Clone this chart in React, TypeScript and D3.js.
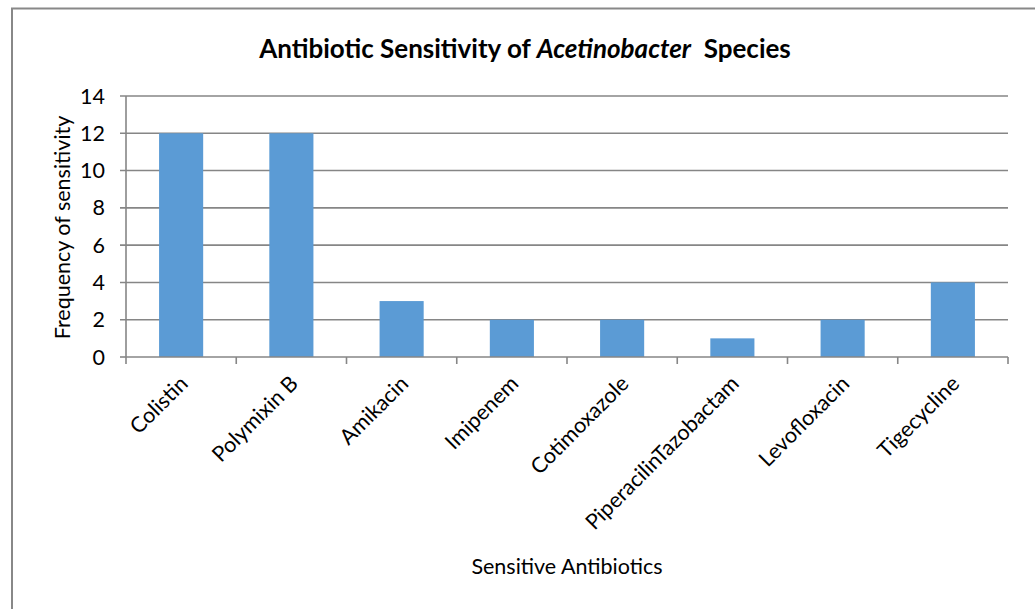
import React from "react";
import * as d3 from "d3";

const categories = ["Colistin", "Polymixin B", "Amikacin", "Imipenem", "Cotimoxazole", "PiperacilinTazobactam", "Levofloxacin", "Tigecycline"];
const values = [12, 12, 3, 2, 2, 1, 2, 4];
const yTicks = [0, 2, 4, 6, 8, 10, 12, 14];

const W = 1035, H = 609;
const left = 126, right = 1008, top = 96, bottom = 357;
const FONT = "Lato, 'Open Sans', sans-serif";
const FS = 21.5;

export default function App() {
  const x = d3.scaleBand<string>().domain(categories).range([left, right]).paddingInner(0).paddingOuter(0);
  const y = d3.scaleLinear().domain([0, 14]).range([bottom, top]);
  const bw = x.bandwidth() * 0.4;
  const grid = "#868686";
  return (
    <svg width={W} height={H} style={{ position: "absolute", left: 0, top: 0 }}>
      <rect x={0} y={0} width={W} height={H} fill="#fff" />
      <rect x={12} y={8.5} width={W + 20} height={H + 20} fill="none" stroke="#888" strokeWidth={2} />
      <text x={525} y={58} textAnchor="middle" fontFamily={FONT} fontWeight="bold" fontSize={26} fill="#000">
        Antibiotic Sensitivity of <tspan fontStyle="italic">Acetinobacter</tspan>{"\u00a0 "}Species
      </text>
      {yTicks.map((t) => (
        <g key={t}>
          <line x1={left - 6} x2={t === 0 ? left : right} y1={y(t)} y2={y(t)} stroke={grid} strokeWidth={1.6} />
          <text x={105} y={y(t) + 7.5} textAnchor="end" fontFamily={FONT} fontSize={FS} fill="#000">{t}</text>
        </g>
      ))}
      <line x1={left} x2={left} y1={top} y2={bottom} stroke={grid} strokeWidth={1.6} />
      {categories.map((c, i) => (
        <rect key={c} x={x(c)! + (x.bandwidth() - bw) / 2} y={y(values[i])} width={bw} height={bottom - y(values[i])} fill="#5b9bd5" />
      ))}
      <line x1={left} x2={right} y1={bottom} y2={bottom} stroke={grid} strokeWidth={1.6} />
      {[...categories.map((c) => x(c)!), right].map((p, i) => (
        <line key={i} x1={p} x2={p} y1={bottom} y2={bottom + 7} stroke={grid} strokeWidth={1.6} />
      ))}
      {categories.map((c) => {
        const cx = x(c)! + x.bandwidth() / 2 + 8;
        const cy = bottom + 28;
        return (
          <text key={c} x={cx} y={cy} textAnchor="end" fontFamily={FONT} fontSize={FS} fill="#000" transform={`rotate(-45 ${cx} ${cy})`}>{c}</text>
        );
      })}
      <text x={567} y={574} textAnchor="middle" fontFamily={FONT} fontSize={FS} fill="#000">Sensitive Antibiotics</text>
      <text transform={`translate(70 ${(top + bottom) / 2 + 1}) rotate(-90)`} textAnchor="middle" fontFamily={FONT} fontSize={FS} fill="#000">Frequency of sensitivity</text>
    </svg>
  );
}
